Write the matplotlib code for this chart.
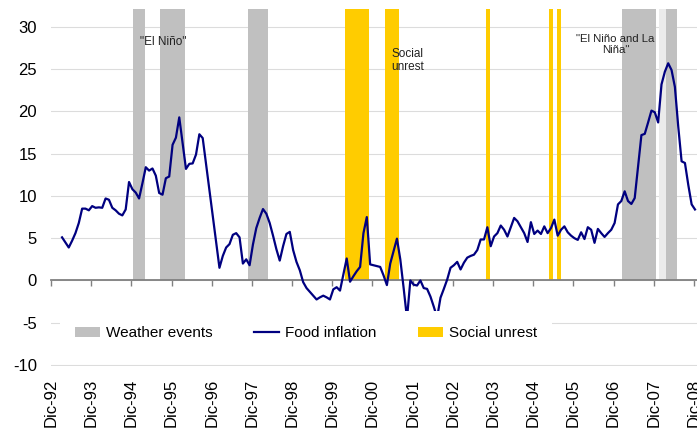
import numpy as np
import matplotlib.pyplot as plt
from matplotlib.patches import Patch
from matplotlib.lines import Line2D

plt.rcParams['font.family'] = ['Liberation Sans', 'DejaVu Sans']
plt.rcParams['axes.unicode_minus'] = False

# Food inflation (% y/y), monthly, Mar-93 .. Dic-08
infl_93 = [5.1, 4.5, 3.9, 4.7, 5.6, 6.8, 8.5, 8.5, 8.3, 8.8]
infl_94 = [8.6, 8.65, 8.6, 9.7, 9.55, 8.6, 8.3, 7.9, 7.7, 8.4, 11.65, 10.8]
infl_95 = [10.4, 9.7, 11.5, 13.4, 13.0, 13.25, 12.4, 10.35, 10.15, 12.1, 12.3, 16.05]
infl_96 = [16.9, 19.3, 16.3, 13.2, 13.8, 13.85, 14.9, 17.3, 16.85, 13.8, 10.7, 7.6]
infl_97 = [4.6, 1.5, 2.9, 3.9, 4.3, 5.4, 5.6, 5.1, 2.0, 2.5, 1.8, 4.25]
infl_98 = [6.2, 7.4, 8.45, 7.9, 6.8, 5.3, 3.7, 2.35, 4.05, 5.5, 5.75, 3.6]
infl_99 = [2.2, 1.2, -0.2, -0.9, -1.35, -1.8, -2.25, -2.0, -1.8, -2.0, -2.25, -1.05]
infl_00 = [-0.8, -1.2, 0.7, 2.6, -0.15, 0.5, 1.1, 1.6, 5.6, 7.5, 1.9, 1.8]
infl_01 = [1.7, 1.6, 0.6, -0.55, 2.0, 3.5, 4.95, 2.5, -0.9, -4.5, 0.0, -0.5]
infl_02 = [-0.6, 0.0, -0.9, -1.0, -1.9, -3.1, -4.4, -2.05, -1.0, 0.1, 1.5, 1.8]
infl_03 = [2.2, 1.3, 2.1, 2.7, 2.9, 3.05, 3.6, 4.85, 4.85, 6.3, 4.05, 5.2]
infl_04 = [5.6, 6.5, 6.0, 5.2, 6.3, 7.4, 7.0, 6.3, 5.6, 4.55, 6.9, 5.5]
infl_05 = [5.9, 5.5, 6.4, 5.6, 6.2, 7.2, 5.3, 6.0, 6.4, 5.7, 5.3, 5.0]
infl_06 = [4.8, 5.7, 4.9, 6.3, 6.0, 4.45, 6.1, 5.6, 5.15, 5.6, 6.0, 6.8]
infl_07 = [9.0, 9.4, 10.55, 9.4, 9.05, 9.75, 13.5, 17.2, 17.35, 18.7, 20.1, 19.9]
infl_08 = [18.7, 23.2, 24.7, 25.7, 24.9, 22.9, 18.2, 14.1, 13.9, 11.3, 9.0, 8.4]

food_inflation = np.concatenate([infl_93, infl_94, infl_95, infl_96, infl_97,
                                 infl_98, infl_99, infl_00, infl_01, infl_02,
                                 infl_03, infl_04, infl_05, infl_06, infl_07,
                                 infl_08])
# x in months after Dic-92, points sit a little after the month tick
months = np.arange(3, 3 + len(food_inflation)) + 0.3

# Event periods (start, end) in months after Dic-92
weather_spans = [(24.5, 28.1), (32.5, 40.0), (58.8, 64.8), (170.4, 180.6), (183.6, 186.9)]
weather_light = [(181.5, 183.6)]
unrest_spans = [(87.8, 94.9), (99.7, 103.9), (129.9, 131.0), (148.7, 149.9), (151.0, 152.2)]
band_top = 33

tick_pos = np.arange(0, 193, 12)
tick_labels = ['Dic-%02d' % (y % 100) for y in range(1992, 2009)]
y_ticks = [-10, -5, 0, 5, 10, 15, 20, 25, 30]

GRAY = '#c0c0c0'
YELLOW = '#ffcc00'
NAVY = '#000080'

fig = plt.figure(figsize=(6.97, 4.32), dpi=100)
ax = fig.add_axes([51 / 697, 66.2 / 432, 646 / 697, 356.6 / 432])

for a, b in weather_spans:
    ax.bar(a, band_top, width=b - a, align='edge', color=GRAY, linewidth=0, zorder=1)
for a, b in weather_light:
    ax.bar(a, band_top, width=b - a, align='edge', color='#ebebeb', linewidth=0, zorder=1)
for a, b in unrest_spans:
    ax.bar(a, band_top, width=b - a, align='edge', color=YELLOW, linewidth=0, zorder=1)

ax.plot(months, food_inflation, color=NAVY, lw=1.6, zorder=3)

ax.set_xlim(0, 192.9)
ax.set_ylim(-10.1, 32.1)

ax.set_yticks(y_ticks)
ax.grid(axis='y', color='#dcdcdc', lw=0.8, zorder=0)
ax.set_axisbelow(True)
ax.tick_params(axis='y', length=0, pad=10, labelsize=12)

for s in ['top', 'right', 'left']:
    ax.spines[s].set_visible(False)
ax.spines['bottom'].set_position(('data', 0))
ax.spines['bottom'].set_color('#808080')
ax.spines['bottom'].set_linewidth(1.3)
ax.spines['bottom'].set_zorder(2.5)
ax.set_xticks(tick_pos)
ax.set_xticklabels(tick_labels, rotation=90)
ax.tick_params(axis='x', direction='out', length=4, width=1, color='#808080',
               pad=67, labelsize=12)

ax.text(33.4, 28.2, '"El Niño"', ha='center', va='center', fontsize=8.5, color='#222222')
ax.text(106.6, 26.0, 'Social\nunrest', ha='center', va='center', fontsize=8.5,
        color='#222222', linespacing=1.15)
ax.text(168.6, 27.9, '"El Niño and La\nNiña"', ha='center', va='center', fontsize=8.2,
        color='#222222', linespacing=1.1)

handles = [Patch(facecolor=GRAY, edgecolor='none', label='Weather events'),
           Line2D([], [], color=NAVY, lw=1.6, label='Food inflation'),
           Patch(facecolor=YELLOW, edgecolor='none', label='Social unrest')]
leg = ax.legend(handles=handles, loc='upper left', ncol=3, fontsize=11,
                bbox_to_anchor=(60 / 697, 1 - 311 / 432), bbox_transform=fig.transFigure,
                frameon=True, facecolor='white', edgecolor='none', framealpha=1,
                fancybox=False, borderpad=1.0, borderaxespad=0, handlelength=1.6,
                handletextpad=0.4, columnspacing=2.75)
leg.set_zorder(5)

fig.savefig('out.png', dpi=100)
